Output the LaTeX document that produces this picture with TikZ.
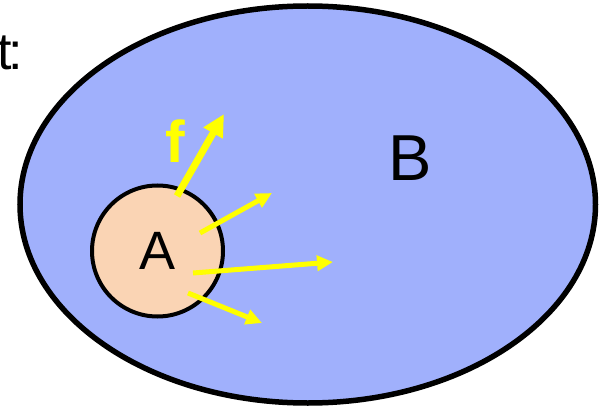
\documentclass[tikz,border=0pt]{standalone}
\usepackage{fontspec}
\setmainfont{Liberation Sans}
\usetikzlibrary{shapes.geometric,arrows.meta}
\definecolor{setblue}{RGB}{160,176,252}
\definecolor{peach}{RGB}{250,212,180}
\definecolor{fyellow}{RGB}{255,255,0}
\tikzset{
  bigset/.style={ellipse, draw=black, line width=5.5pt, fill=setblue, inner sep=0pt,
    minimum width=575.5pt, minimum height=397pt},
  smallset/.style={circle, draw=black, line width=4pt, fill=peach, inner sep=0pt,
    minimum size=131pt, font=\fontsize{54}{54}\selectfont},
  label/.style={inner sep=0pt, anchor=base},
  forcemain/.style={draw=fyellow, line width=7pt, -{Triangle[length=22pt,width=21pt]}},
  forcearrow/.style={draw=fyellow, line width=5pt, -{Triangle[length=16pt,width=15pt]}},
}
\begin{document}
\begin{tikzpicture}[x=1pt,y=-1pt]
\useasboundingbox (0,0) rectangle (605,409);
\node[label, anchor=base west, font=\fontsize{52}{52}\selectfont] (t) at (-3,70) {t\kern-3.5pt:};
\node[bigset] (B) at (307.75,204.5) {};
\node[label, font=\fontsize{65}{65}\selectfont] (Blabel) at (410,180) {B};
\node[smallset] (A) at (157.5,251) {A};
\coordinate (s1) at (177,196); \coordinate (e1) at (224,114);
\coordinate (s2) at (200,233); \coordinate (e2) at (272,193);
\coordinate (s3) at (193,273); \coordinate (e3) at (333,262);
\coordinate (s4) at (188,293); \coordinate (e4) at (262,323);
\draw[forcemain] (s1) -- (e1);
\draw[forcearrow] (s2) -- (e2);
\draw[forcearrow] (s3) -- (e3);
\draw[forcearrow] (s4) -- (e4);
\node[label, text=fyellow, font=\bfseries\fontsize{59}{59}\selectfont] (f) at (175,162) {f};
\end{tikzpicture}
\end{document}
